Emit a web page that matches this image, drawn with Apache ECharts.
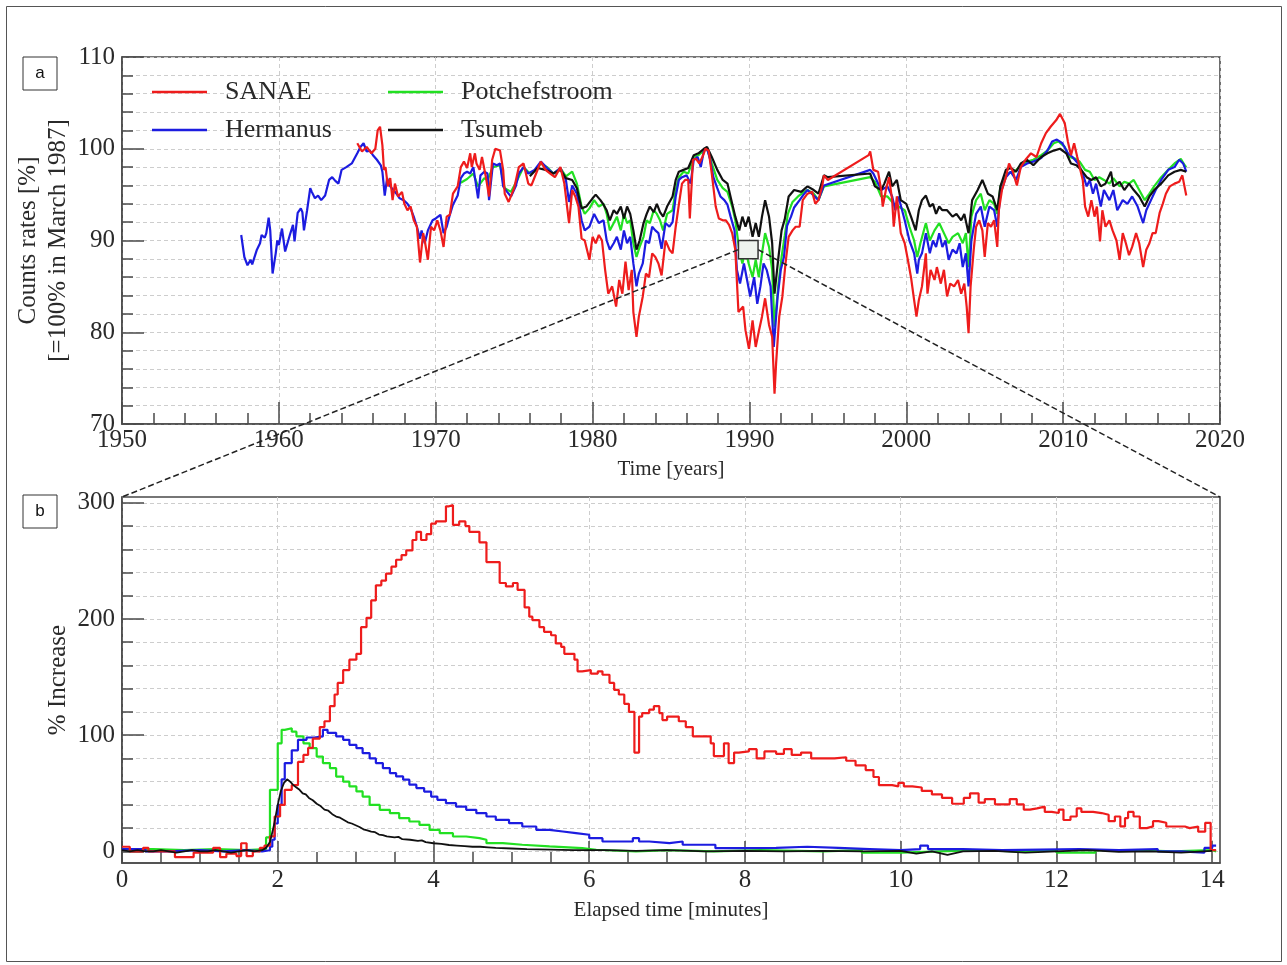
<!DOCTYPE html>
<html>
<head>
<meta charset="utf-8">
<script src="https://cdn.jsdelivr.net/npm/echarts@6/dist/echarts.min.js"></script>
<style>
  html, body { margin: 0; padding: 0; background: #ffffff; }
  #chart { width: 1287px; height: 965px; }
</style>
</head>
<body>
<div id="chart"></div>
<script>
// ---------- Panel a: neutron monitor count rates, [year, % of March 1987] ----------
const sanae = [[1965.0,100.6],[1965.3,99.7],[1965.6,100.2],[1965.9,99.5],[1966.15,100.0],[1966.3,102.0],[1966.45,102.4],[1966.6,100.4],[1966.7,97.7],[1966.8,98.0],[1966.95,95.9],[1967.1,96.8],[1967.25,94.4],[1967.4,96.2],[1967.6,94.8],[1967.85,95.3],[1968.0,94.0],[1968.2,93.3],[1968.4,93.7],[1968.6,92.2],[1968.8,91.5],[1969.0,87.6],[1969.2,90.8],[1969.3,90.0],[1969.5,87.9],[1969.7,91.5],[1969.9,91.1],[1970.1,92.2],[1970.3,91.1],[1970.5,89.3],[1970.7,92.6],[1970.9,92.8],[1971.1,95.1],[1971.4,95.9],[1971.6,98.0],[1971.8,98.6],[1972.0,97.9],[1972.2,99.5],[1972.3,98.0],[1972.5,99.5],[1972.6,98.4],[1972.8,97.7],[1972.95,99.1],[1973.2,96.9],[1973.4,94.8],[1973.6,98.8],[1973.8,100.0],[1974.1,99.8],[1974.3,97.7],[1974.4,95.1],[1974.65,94.2],[1975.0,95.7],[1975.3,98.0],[1975.6,98.4],[1975.9,96.2],[1976.1,96.0],[1976.4,97.3],[1976.7,98.6],[1977.0,97.7],[1977.3,97.3],[1977.6,96.9],[1977.95,98.0],[1978.2,96.2],[1978.5,91.9],[1978.7,95.5],[1978.9,94.8],[1979.1,93.7],[1979.3,90.2],[1979.5,90.0],[1979.8,87.9],[1980.0,90.4],[1980.2,89.7],[1980.4,90.6],[1980.6,90.0],[1980.8,86.8],[1981.0,84.2],[1981.25,85.0],[1981.5,82.8],[1981.7,85.7],[1981.9,84.2],[1982.1,87.7],[1982.3,84.6],[1982.5,86.8],[1982.6,82.2],[1982.8,79.5],[1982.95,81.7],[1983.2,83.9],[1983.4,86.4],[1983.6,86.0],[1983.8,88.6],[1984.0,88.2],[1984.2,87.5],[1984.4,86.2],[1984.65,90.0],[1984.9,89.0],[1985.1,88.6],[1985.3,91.5],[1985.5,93.9],[1985.7,96.2],[1985.9,96.6],[1986.1,96.6],[1986.2,92.4],[1986.4,98.8],[1986.6,98.9],[1986.8,98.4],[1987.0,99.1],[1987.2,100.0],[1987.4,99.8],[1987.6,97.3],[1987.85,93.7],[1988.05,92.4],[1988.3,92.2],[1988.5,92.2],[1988.7,91.7],[1988.9,90.8],[1989.1,89.0],[1989.3,82.2],[1989.4,82.1],[1989.6,82.8],[1989.75,80.2],[1989.97,78.2],[1990.2,81.3],[1990.4,78.4],[1990.6,80.1],[1990.8,81.7],[1991.0,83.7],[1991.25,80.8],[1991.45,79.5],[1991.6,73.3],[1991.7,76.6],[1991.9,81.7],[1992.1,83.9],[1992.3,87.5],[1992.5,90.4],[1992.75,91.1],[1992.95,91.5],[1993.2,91.5],[1993.4,94.4],[1993.7,95.1],[1994.0,95.3],[1994.2,94.0],[1994.4,94.4],[1994.65,96.0],[1994.75,97.1],[1995.0,96.6],[1997.6,99.3],[1997.7,99.7],[1997.9,97.7],[1998.2,97.5],[1998.4,95.5],[1998.5,93.7],[1998.7,95.5],[1998.9,96.9],[1999.1,94.4],[1999.2,91.5],[1999.4,94.8],[1999.65,90.8],[1999.9,89.7],[2000.1,87.9],[2000.3,86.0],[2000.5,83.5],[2000.65,81.7],[2000.8,83.5],[2001.0,85.0],[2001.25,88.6],[2001.35,84.2],[2001.55,86.8],[2001.8,85.7],[2001.95,87.1],[2002.2,85.3],[2002.4,86.8],[2002.6,83.9],[2002.8,85.3],[2003.05,85.0],[2003.3,85.7],[2003.5,84.2],[2003.7,85.3],[2003.85,82.8],[2003.97,79.9],[2004.1,85.0],[2004.3,89.0],[2004.45,91.5],[2004.65,92.2],[2004.85,91.1],[2005.0,88.2],[2005.2,91.9],[2005.4,91.5],[2005.6,92.2],[2005.8,89.3],[2005.9,93.3],[2006.1,95.5],[2006.35,96.9],[2006.55,98.4],[2006.8,97.5],[2007.05,96.0],[2007.3,98.0],[2007.6,98.8],[2007.95,99.5],[2008.3,99.1],[2008.6,100.6],[2008.9,101.7],[2009.2,102.4],[2009.55,103.1],[2009.8,103.8],[2010.1,102.8],[2010.3,100.8],[2010.5,99.3],[2010.7,100.6],[2010.9,99.1],[2011.05,98.0],[2011.25,96.6],[2011.4,93.7],[2011.6,92.6],[2011.8,94.4],[2012.0,92.6],[2012.15,93.7],[2012.35,89.9],[2012.5,93.3],[2012.7,91.5],[2012.95,92.2],[2013.15,91.1],[2013.4,90.0],[2013.6,87.9],[2013.8,90.8],[2014.0,89.7],[2014.2,88.4],[2014.4,89.3],[2014.65,90.8],[2014.85,89.7],[2015.1,87.1],[2015.3,89.0],[2015.5,89.7],[2015.7,90.8],[2015.9,90.8],[2016.15,93.0],[2016.35,94.0],[2016.55,95.1],[2016.8,95.9],[2017.1,96.2],[2017.4,96.4],[2017.6,97.1],[2017.7,96.2],[2017.85,94.9]];

const hermanus = [[1957.6,90.6],[1957.8,88.2],[1958.0,87.3],[1958.2,87.9],[1958.3,87.4],[1958.6,89.0],[1958.8,89.7],[1958.9,90.6],[1959.1,90.3],[1959.2,90.8],[1959.35,92.5],[1959.45,91.1],[1959.6,86.4],[1959.8,88.6],[1959.9,90.0],[1960.0,89.5],[1960.2,91.3],[1960.4,88.8],[1960.6,90.0],[1960.7,90.6],[1960.9,91.7],[1961.0,89.9],[1961.2,93.0],[1961.4,93.5],[1961.5,93.1],[1961.6,91.1],[1961.8,93.3],[1962.0,95.7],[1962.1,95.3],[1962.3,94.6],[1962.5,94.9],[1962.7,94.4],[1962.95,94.9],[1963.2,96.6],[1963.4,96.9],[1963.6,96.5],[1963.8,96.2],[1964.0,97.7],[1964.3,98.0],[1964.65,98.4],[1965.0,99.5],[1965.2,100.2],[1965.4,100.6],[1965.6,99.7],[1965.8,99.8],[1966.0,99.3],[1966.25,98.8],[1966.5,98.2],[1966.6,97.5],[1966.75,94.9],[1966.9,96.8],[1967.1,95.9],[1967.3,95.5],[1967.5,95.1],[1967.7,94.6],[1967.95,94.4],[1968.2,94.0],[1968.4,93.5],[1968.6,92.6],[1968.8,91.5],[1969.0,90.2],[1969.1,91.1],[1969.3,89.7],[1969.5,91.1],[1969.8,92.2],[1970.0,92.4],[1970.3,92.8],[1970.5,90.8],[1970.7,91.5],[1970.9,92.8],[1971.1,93.9],[1971.4,94.9],[1971.6,96.8],[1971.8,97.3],[1972.0,97.5],[1972.2,97.3],[1972.4,98.0],[1972.7,94.6],[1972.85,97.1],[1973.1,97.5],[1973.3,97.3],[1973.4,94.4],[1973.65,98.4],[1973.9,98.2],[1974.1,98.4],[1974.3,95.9],[1974.55,95.3],[1974.8,94.8],[1975.1,95.9],[1975.3,97.3],[1975.6,98.0],[1975.9,97.3],[1976.3,97.7],[1976.7,98.6],[1977.1,97.9],[1977.5,97.3],[1977.95,97.9],[1978.3,96.6],[1978.5,94.2],[1978.7,96.0],[1979.0,95.1],[1979.3,92.2],[1979.5,91.1],[1979.8,91.5],[1980.1,92.9],[1980.4,91.9],[1980.7,92.2],[1980.9,90.0],[1981.1,89.0],[1981.35,89.7],[1981.55,90.4],[1981.8,89.0],[1982.0,91.1],[1982.2,89.7],[1982.4,90.4],[1982.6,87.5],[1982.8,85.0],[1982.95,86.4],[1983.2,87.5],[1983.4,90.0],[1983.6,89.7],[1983.8,91.5],[1984.0,91.1],[1984.2,90.8],[1984.4,89.1],[1984.65,91.9],[1984.9,91.5],[1985.1,92.0],[1985.3,94.8],[1985.5,96.6],[1985.7,96.9],[1986.0,97.1],[1986.25,96.2],[1986.45,98.8],[1986.7,99.1],[1986.9,98.0],[1987.1,99.8],[1987.3,100.0],[1987.5,98.8],[1987.7,96.9],[1987.95,95.7],[1988.15,94.8],[1988.4,94.4],[1988.6,93.9],[1988.8,92.6],[1989.05,91.1],[1989.2,86.8],[1989.4,85.3],[1989.65,87.5],[1989.85,85.7],[1990.05,83.9],[1990.3,86.0],[1990.5,83.1],[1990.7,85.0],[1990.9,87.5],[1991.1,86.8],[1991.35,85.0],[1991.55,78.4],[1991.8,83.9],[1992.0,86.8],[1992.2,88.2],[1992.4,91.6],[1992.65,92.6],[1992.85,93.6],[1993.2,94.4],[1993.45,95.0],[1993.7,95.5],[1994.1,94.9],[1994.4,94.4],[1994.75,96.0],[1997.7,97.7],[1997.9,97.3],[1998.4,95.5],[1998.8,95.9],[1999.1,94.8],[1999.3,93.3],[1999.5,94.8],[1999.9,92.2],[2000.2,90.0],[2000.5,88.6],[2000.7,86.4],[2000.8,87.9],[2001.0,88.6],[2001.25,90.8],[2001.5,88.6],[2001.7,90.0],[2001.9,89.3],[2002.1,90.8],[2002.3,89.3],[2002.5,90.0],[2002.7,87.9],[2002.95,89.0],[2003.2,88.6],[2003.4,89.7],[2003.6,87.1],[2003.8,88.6],[2003.97,85.0],[2004.15,90.0],[2004.45,92.9],[2004.75,93.7],[2005.0,91.5],[2005.3,93.7],[2005.6,93.3],[2005.8,91.5],[2006.0,95.1],[2006.35,96.9],[2006.65,97.5],[2007.0,96.6],[2007.3,98.0],[2007.7,98.4],[2008.1,98.6],[2008.6,99.0],[2009.0,99.8],[2009.3,100.8],[2009.6,101.0],[2009.95,100.6],[2010.3,99.5],[2010.6,99.1],[2010.95,98.4],[2011.25,97.3],[2011.5,95.9],[2011.7,96.6],[2011.9,95.1],[2012.1,96.2],[2012.4,93.7],[2012.6,95.5],[2012.95,94.4],[2013.2,95.5],[2013.45,93.3],[2013.8,94.4],[2014.1,94.0],[2014.4,94.8],[2014.75,93.7],[2015.1,91.9],[2015.3,93.3],[2015.6,94.4],[2015.9,95.5],[2016.25,96.6],[2016.7,97.7],[2017.1,98.0],[2017.4,98.8],[2017.65,98.4],[2017.85,97.5]];

const potchefstroom = [[1971.6,96.3],[1972.0,96.7],[1972.4,97.3],[1972.7,95.9],[1973.1,96.8],[1973.3,96.6],[1973.65,98.0],[1974.1,98.2],[1974.4,95.7],[1974.8,95.3],[1975.2,96.6],[1975.6,98.0],[1976.0,97.3],[1976.4,97.7],[1976.7,98.4],[1977.1,98.0],[1977.5,97.3],[1977.95,97.9],[1978.3,97.0],[1978.7,97.5],[1979.0,96.2],[1979.3,93.7],[1979.5,92.9],[1979.8,93.5],[1980.1,94.4],[1980.4,93.7],[1980.7,94.0],[1980.9,92.9],[1981.1,91.1],[1981.35,91.9],[1981.55,92.6],[1981.8,91.1],[1982.0,92.9],[1982.2,91.9],[1982.4,92.2],[1982.6,89.7],[1982.8,88.2],[1983.0,89.3],[1983.25,90.4],[1983.45,92.2],[1983.65,91.9],[1983.9,93.3],[1984.1,92.9],[1984.3,92.2],[1984.5,91.1],[1984.75,92.9],[1985.1,93.3],[1985.3,95.5],[1985.5,96.9],[1985.8,97.5],[1986.1,97.3],[1986.45,99.1],[1986.75,99.3],[1987.1,99.8],[1987.3,100.0],[1987.6,98.4],[1987.95,96.6],[1988.3,95.7],[1988.6,95.3],[1988.9,93.7],[1989.1,92.2],[1989.35,89.0],[1989.55,87.5],[1989.75,89.0],[1989.95,87.5],[1990.2,86.0],[1990.4,87.9],[1990.6,86.0],[1990.8,88.6],[1991.0,90.8],[1991.25,89.3],[1991.45,86.8],[1991.6,80.6],[1991.85,85.3],[1992.05,88.2],[1992.25,90.5],[1992.45,92.9],[1992.75,94.2],[1993.1,94.8],[1993.4,95.2],[1993.7,95.5],[1994.1,95.1],[1994.4,94.4],[1994.75,95.9],[1997.7,96.9],[1998.0,96.4],[1998.4,94.8],[1998.8,94.8],[1999.2,94.0],[1999.5,93.7],[1999.9,93.3],[2000.2,91.5],[2000.5,90.0],[2000.7,88.2],[2000.9,89.7],[2001.25,91.9],[2001.5,90.0],[2001.8,91.1],[2002.1,91.9],[2002.4,90.8],[2002.7,89.7],[2002.95,90.4],[2003.3,90.8],[2003.6,89.7],[2003.8,90.8],[2003.97,87.1],[2004.15,92.6],[2004.45,94.4],[2004.75,95.1],[2005.0,93.3],[2005.3,94.4],[2005.6,94.0],[2005.8,92.9],[2006.0,95.9],[2006.45,97.3],[2006.9,97.5],[2007.3,98.2],[2007.7,98.6],[2008.1,98.8],[2008.6,99.3],[2009.0,99.8],[2009.4,100.6],[2009.7,100.8],[2010.1,100.2],[2010.4,99.1],[2010.8,98.9],[2011.05,98.6],[2011.4,97.7],[2011.7,97.5],[2012.0,96.6],[2012.3,96.9],[2012.6,96.6],[2012.95,96.2],[2013.2,96.8],[2013.6,95.9],[2013.9,96.4],[2014.2,96.2],[2014.5,96.6],[2014.85,95.5],[2015.2,94.4],[2015.5,95.1],[2015.8,95.9],[2016.25,96.9],[2016.7,97.7],[2017.1,98.4],[2017.5,98.9],[2017.75,98.2],[2017.85,98.0]];

const tsumeb = [[1976.0,97.0],[1976.5,97.9],[1977.0,97.7],[1977.5,97.3],[1977.95,97.7],[1978.3,96.8],[1978.7,96.6],[1979.0,95.7],[1979.3,93.5],[1979.6,93.7],[1980.0,94.6],[1980.2,95.0],[1980.5,94.4],[1980.7,93.9],[1980.9,93.3],[1981.1,92.2],[1981.35,93.3],[1981.55,92.9],[1981.8,93.7],[1982.0,92.4],[1982.2,93.7],[1982.4,92.9],[1982.6,91.1],[1982.8,89.0],[1983.0,90.0],[1983.25,91.9],[1983.45,92.9],[1983.65,93.7],[1983.9,93.1],[1984.1,94.0],[1984.3,93.1],[1984.5,92.6],[1984.75,93.7],[1985.1,94.8],[1985.3,96.6],[1985.5,97.5],[1985.8,97.7],[1986.1,97.9],[1986.45,99.3],[1986.75,99.5],[1987.1,100.0],[1987.3,100.2],[1987.6,99.1],[1987.95,97.7],[1988.3,96.6],[1988.6,96.2],[1988.9,94.0],[1989.1,92.6],[1989.35,91.1],[1989.55,92.6],[1989.75,91.5],[1989.95,92.6],[1990.2,90.4],[1990.4,91.9],[1990.6,90.4],[1990.8,92.6],[1991.0,94.4],[1991.25,92.6],[1991.45,89.7],[1991.6,84.2],[1991.85,88.2],[1992.05,91.1],[1992.25,92.3],[1992.5,94.8],[1992.85,95.5],[1993.3,95.3],[1993.7,95.9],[1994.1,95.5],[1994.4,95.1],[1994.75,97.1],[1995.0,96.9],[1997.7,97.3],[1998.0,95.9],[1998.4,95.5],[1998.6,96.2],[1998.9,97.5],[1999.1,95.9],[1999.4,96.6],[1999.65,94.4],[2000.0,94.0],[2000.3,92.6],[2000.6,91.1],[2000.8,93.3],[2001.0,94.4],[2001.25,94.9],[2001.5,93.7],[2001.7,94.0],[2001.9,92.9],[2002.1,93.7],[2002.3,93.3],[2002.6,93.3],[2002.95,92.6],[2003.2,92.9],[2003.5,92.2],[2003.7,92.9],[2003.97,90.8],[2004.2,94.4],[2004.55,95.5],[2004.85,96.6],[2005.2,95.1],[2005.5,94.8],[2005.8,93.3],[2006.0,95.9],[2006.35,97.7],[2006.65,97.9],[2007.0,97.5],[2007.3,98.4],[2007.7,98.8],[2008.1,98.2],[2008.6,99.1],[2009.0,99.5],[2009.4,99.8],[2009.8,100.0],[2010.2,99.5],[2010.5,98.4],[2010.85,98.2],[2011.15,97.7],[2011.5,96.9],[2011.8,96.6],[2012.1,96.9],[2012.4,95.9],[2012.7,96.2],[2013.05,97.5],[2013.2,95.9],[2013.6,96.4],[2013.9,95.5],[2014.2,96.2],[2014.5,95.5],[2014.85,94.8],[2015.2,93.7],[2015.5,94.8],[2015.8,95.5],[2016.25,96.2],[2016.7,97.1],[2017.1,97.5],[2017.5,97.7],[2017.85,97.5]];

// Region of panel a that panel b expands (years, count rate %)
const zoomBox = { x0: 1989.3, x1: 1990.55, y0: 88.0, y1: 90.0 };

// ---------- Panel b: ground level enhancement, [elapsed minutes, % increase] ----------
const sanaeGle = [[0,4],[0.1,0],[0.27,3],[0.34,0],[0.68,-5],[0.92,-1],[1.17,3],[1.26,-5],[1.34,-2],[1.47,-4],[1.53,7],[1.6,-4],[1.68,0],[1.77,3],[1.83,5],[1.9,13],[1.96,30],[2.03,40],[2.09,53],[2.18,57],[2.26,77],[2.33,83],[2.39,89],[2.45,97],[2.54,107],[2.6,112],[2.67,125],[2.73,135],[2.77,145],[2.84,156],[2.92,165],[3.01,170],[3.07,193],[3.14,201],[3.2,216],[3.26,229],[3.33,233],[3.39,239],[3.46,245],[3.52,251],[3.59,255],[3.65,259],[3.73,268],[3.78,275],[3.84,268],[3.91,273],[3.97,282],[4.03,284],[4.1,284],[4.16,297],[4.2,298],[4.25,281],[4.33,284],[4.41,280],[4.46,275],[4.59,266],[4.68,249],[4.76,249],[4.85,231],[4.93,228],[5.02,231],[5.08,225],[5.17,210],[5.23,202],[5.27,199],[5.36,193],[5.42,189],[5.51,186],[5.57,179],[5.64,176],[5.68,170],[5.81,165],[5.85,155],[5.91,156],[6.02,153],[6.11,155],[6.17,152],[6.26,145],[6.32,139],[6.38,135],[6.45,127],[6.51,120],[6.58,85],[6.64,116],[6.68,119],[6.77,122],[6.83,125],[6.9,119],[6.94,113],[7.0,116],[7.15,112],[7.24,107],[7.33,99],[7.39,99],[7.56,93],[7.6,82],[7.73,93],[7.79,76],[7.86,85],[7.92,86],[8.05,88],[8.15,80],[8.25,86],[8.4,84],[8.5,88],[8.6,83],[8.72,85],[8.85,80],[9.0,80],[9.15,81],[9.3,78],[9.42,74],[9.55,70],[9.65,64],[9.72,57],[9.89,56],[9.97,59],[10.04,56],[10.15,55],[10.27,52],[10.4,49],[10.53,46],[10.66,41],[10.81,46],[10.89,50],[11.0,42],[11.08,45],[11.21,40.5],[11.4,45],[11.49,40.5],[11.58,36],[11.66,37],[11.75,38.5],[11.85,34],[11.94,33],[12.03,36],[12.09,27],[12.18,30],[12.26,37],[12.32,34],[12.47,33],[12.58,31.5],[12.67,26],[12.75,30],[12.82,21.5],[12.88,28.7],[12.92,34],[12.99,30],[13.07,20],[13.16,21.5],[13.24,26],[13.31,24.6],[13.41,21.4],[13.65,20],[13.71,21.4],[13.82,17],[13.91,24.6],[13.98,1],[14.05,1]];

const hermanusGle = [[0,2],[0.3,0],[0.6,1],[1.0,0],[1.3,1],[1.6,0],[1.8,1],[1.9,4],[1.93,10],[1.96,24],[2.0,40],[2.05,62],[2.09,76],[2.18,87],[2.26,96],[2.37,98],[2.47,99],[2.58,104.6],[2.64,102],[2.75,99],[2.84,96],[2.92,91.7],[3.01,88.8],[3.09,84.5],[3.18,80],[3.26,76],[3.35,71.6],[3.44,67.4],[3.52,64.5],[3.61,61.7],[3.69,57.4],[3.78,54.5],[3.88,51.5],[3.97,47.2],[4.05,44.4],[4.16,41.5],[4.29,38.6],[4.42,35.8],[4.55,32.9],[4.68,30],[4.8,27.2],[4.97,24.3],[5.14,21.4],[5.32,18.5],[5.49,17.1],[5.66,15.7],[5.83,14.3],[6.0,11.4],[6.17,8.5],[6.34,8.5],[6.56,11.4],[6.64,8.5],[6.77,7.1],[7.03,8.5],[7.2,5.7],[7.62,2.8],[8.0,3],[8.4,4],[8.8,3],[9.2,2],[9.6,1],[10.0,2],[10.25,5],[10.35,2],[10.8,1],[11.3,1.5],[11.8,2],[12.3,1],[12.8,2],[13.3,0],[13.6,-1],[13.9,3],[14.0,5],[14.05,5]];

const potchefstroomGle = [[0,2],[0.4,1],[0.8,2],[1.2,1],[1.6,2],[1.85,12],[1.9,53],[1.94,53],[2.0,93],[2.05,104.6],[2.09,106],[2.18,103],[2.24,99],[2.33,93],[2.41,88.8],[2.5,81.6],[2.58,76],[2.67,71.6],[2.75,64.4],[2.84,60],[2.92,55.9],[3.01,51.6],[3.09,47.2],[3.18,40],[3.31,35.8],[3.44,32.9],[3.56,28.6],[3.69,25.7],[3.82,22.8],[3.95,18.5],[4.08,15.7],[4.25,12.8],[4.42,11.4],[4.59,10],[4.68,7.1],[4.89,5.7],[5.14,4.3],[5.49,2.8],[5.91,1.4],[6.09,0],[6.6,1],[7.0,0],[7.6,1],[8.2,0],[9.0,1],[9.5,-1],[10.0,0],[10.5,1],[11.0,0],[11.5,1],[12.0,-1],[12.5,1],[13.0,0],[13.5,1],[14.0,0],[14.05,0]];

const tsumebGle = [[0,1],[0.1,0],[0.2,1],[0.3,0],[0.4,0],[0.5,1],[0.6,0],[0.7,-1],[0.8,0],[0.9,1],[1.0,0],[1.1,0],[1.2,1],[1.3,0],[1.4,-1],[1.5,0],[1.6,1],[1.7,0],[1.8,1],[1.85,3],[1.9,8],[1.95,22],[2.0,40],[2.04,52],[2.08,59],[2.12,62],[2.16,60],[2.2,57],[2.24,55],[2.28,53],[2.32,50],[2.36,49],[2.4,46],[2.45,44],[2.5,41],[2.55,39],[2.6,36],[2.65,35],[2.7,32],[2.75,30],[2.8,29],[2.85,27],[2.9,25],[2.95,24],[3.0,22.5],[3.05,21],[3.1,19],[3.15,18],[3.2,17],[3.25,16.5],[3.3,14.5],[3.35,14],[3.4,13],[3.5,12],[3.55,12.5],[3.6,10.5],[3.7,10],[3.8,9],[3.85,9.5],[3.9,8],[4.0,7],[4.1,6.5],[4.2,5.5],[4.3,5],[4.4,4.5],[4.5,4],[4.6,4],[4.7,3.5],[4.8,3],[5.0,2.5],[5.2,2],[5.5,1.5],[5.8,1],[6.2,1],[6.6,0.5],[7.0,1],[7.5,0],[8.0,0.5],[8.5,0],[9.0,0.5],[9.5,0],[10.0,0.5],[10.2,-2],[10.4,0],[10.6,-3],[10.8,0],[11.2,0.5],[11.6,-1],[12.0,0],[12.4,1],[12.8,-0.5],[13.2,0],[13.6,-1],[14.0,0.5]];

// Tick positions for panel b
const elapsedMajorTicks = [0, 2, 4, 6, 8, 10, 12, 14];
const elapsedMinorTicks = [0.5, 1, 1.5, 2.5, 3, 3.5, 4.5, 5, 5.5, 6.5, 7, 7.5, 8.5, 9, 9.5, 10.5, 11, 11.5, 12.5, 13, 13.5];
const increaseMajorTicks = [0, 100, 200, 300];
const increaseMinorTicks = [20, 40, 60, 80, 120, 140, 160, 180, 220, 240, 260, 280];

// ---------- Styling ----------
const SERIF = "'Liberation Serif', 'DejaVu Serif', serif";
const AXIS = '#4a4a4a';
const TEXT = '#2a2a2a';
const COLORS = { SANAE: '#ee1c1c', Hermanus: '#1c1ce0', Potchefstroom: '#22e022', Tsumeb: '#111111' };
const dashed = { color: '#cdcdcd', type: [4, 3], width: 1 };
const axisLineStyle = { color: AXIS, width: 1.6 };
const tickLine = { color: AXIS, width: 1.5 };
const labelStyle = { fontFamily: SERIF, fontSize: 25, color: TEXT };
const nameStyleX = { fontFamily: SERIF, fontSize: 21, color: TEXT };
const nameStyleY = { fontFamily: SERIF, fontSize: 25, color: TEXT, lineHeight: 30 };

const GRID_A = { left: 122, right: 67, top: 57, height: 367 };
const GRID_B = { left: 122, right: 67, top: 497, height: 366 };

function lineSeries(name, data, xi, yi, step, width) {
  return {
    name, type: 'line', data, xAxisIndex: xi, yAxisIndex: yi,
    symbol: 'none', step: step || false, animation: false,
    lineStyle: { color: COLORS[name], width: width || 2.2 },
    itemStyle: { color: COLORS[name] }
  };
}

// Legend keys drawn as short thick strokes in the series colour
const legendCommon = {
  orient: 'vertical', top: 72, icon: 'rect', itemWidth: 55, itemHeight: 2.5, itemGap: 8,
  selectedMode: false,
  textStyle: { fontFamily: SERIF, fontSize: 26, color: TEXT, lineHeight: 30, padding: [0, 0, 0, 13] }
};

const chart = echarts.init(document.getElementById('chart'), null, { renderer: 'canvas' });

const option = {
  backgroundColor: '#ffffff',
  animation: false,
  grid: [
    Object.assign({ show: true, borderColor: AXIS, borderWidth: 1.6, outerBoundsMode: 'none', containLabel: false }, GRID_A),
    Object.assign({ show: true, borderColor: AXIS, borderWidth: 1.6, outerBoundsMode: 'none', containLabel: false }, GRID_B)
  ],
  legend: [
    Object.assign({ data: ['SANAE', 'Hermanus'], left: 147 }, legendCommon),
    Object.assign({ data: ['Potchefstroom', 'Tsumeb'], left: 383 }, legendCommon)
  ],
  xAxis: [
    { // panel a: years
      type: 'value', gridIndex: 0, position: 'bottom', min: 1950, max: 2020, interval: 10,
      axisLine: { show: true, onZero: false, lineStyle: axisLineStyle },
      axisTick: { show: true, inside: true, length: 22, lineStyle: tickLine },
      minorTick: { show: true, splitNumber: 5, length: 11, lineStyle: tickLine },
      splitLine: { show: true, lineStyle: dashed },
      axisLabel: Object.assign({ margin: 4, formatter: v => String(v) }, labelStyle),
      name: 'Time [years]', nameLocation: 'middle', nameGap: 35, nameTextStyle: nameStyleX, nameMoveOverlap: false
    },
    { // panel b: elapsed minutes, major ticks
      type: 'value', gridIndex: 1, position: 'bottom', min: 0, max: 14.1,
      axisLine: { show: true, onZero: false, lineStyle: axisLineStyle },
      axisTick: { show: true, inside: true, length: 22, lineStyle: tickLine, customValues: elapsedMajorTicks },
      splitLine: { show: true, lineStyle: dashed },
      axisLabel: Object.assign({ margin: 5, customValues: elapsedMajorTicks, formatter: v => String(v) }, labelStyle),
      name: 'Elapsed time [minutes]', nameLocation: 'middle', nameGap: 37, nameTextStyle: nameStyleX, nameMoveOverlap: false
    },
    { // panel b: elapsed minutes, minor ticks
      type: 'value', gridIndex: 1, position: 'bottom', min: 0, max: 14.1,
      axisLine: { show: false, onZero: false },
      axisTick: { show: true, inside: true, length: 11, lineStyle: tickLine, customValues: elapsedMinorTicks },
      splitLine: { show: false },
      axisLabel: { show: false }
    }
  ],
  yAxis: [
    { // panel a: count rate
      type: 'value', gridIndex: 0, position: 'left', min: 70, max: 110, interval: 10,
      axisLine: { show: true, onZero: false, lineStyle: axisLineStyle },
      axisTick: { show: true, inside: true, length: 22, lineStyle: tickLine },
      minorTick: { show: true, splitNumber: 5, length: 11, lineStyle: tickLine },
      splitLine: { show: true, lineStyle: dashed },
      minorSplitLine: { show: true, lineStyle: dashed },
      axisLabel: Object.assign({ margin: 7 }, labelStyle),
      name: 'Counts rates [%]\n[=100% in March 1987]', nameLocation: 'middle', nameGap: 49,
      nameTextStyle: nameStyleY, nameMoveOverlap: false
    },
    { // panel b: % increase, major ticks
      type: 'value', gridIndex: 1, position: 'left', min: -10, max: 305,
      axisLine: { show: true, onZero: false, lineStyle: axisLineStyle },
      axisTick: { show: true, inside: true, length: 22, lineStyle: tickLine, customValues: increaseMajorTicks },
      splitLine: { show: true, lineStyle: dashed },
      axisLabel: Object.assign({ margin: 7, customValues: increaseMajorTicks }, labelStyle),
      name: '% Increase', nameLocation: 'middle', nameGap: 49,
      nameTextStyle: nameStyleY, nameMoveOverlap: false
    },
    { // panel b: % increase, minor ticks
      type: 'value', gridIndex: 1, position: 'left', min: -10, max: 305,
      axisLine: { show: false, onZero: false },
      axisTick: { show: true, inside: true, length: 11, lineStyle: tickLine, customValues: increaseMinorTicks },
      splitLine: { show: true, lineStyle: dashed },
      axisLabel: { show: false }
    }
  ],
  series: [
    lineSeries('Potchefstroom', potchefstroom, 0, 0),
    lineSeries('Hermanus', hermanus, 0, 0),
    lineSeries('Tsumeb', tsumeb, 0, 0),
    lineSeries('SANAE', sanae, 0, 0),
    lineSeries('Potchefstroom', potchefstroomGle, 1, 1, 'end'),
    lineSeries('Hermanus', hermanusGle, 1, 1, 'end'),
    lineSeries('SANAE', sanaeGle, 1, 1, 'end'),
    lineSeries('Tsumeb', tsumebGle, 1, 1, false, 1.8)
  ]
};

chart.setOption(option);

// Zoom box on panel a and the dashed connectors to panel b's top corners
const pTL = chart.convertToPixel({ xAxisIndex: 0, yAxisIndex: 0 }, [zoomBox.x0, zoomBox.y1]);
const pBR = chart.convertToPixel({ xAxisIndex: 0, yAxisIndex: 0 }, [zoomBox.x1, zoomBox.y0]);
const bTL = chart.convertToPixel({ xAxisIndex: 1, yAxisIndex: 1 }, [0, 305]);
const bTR = chart.convertToPixel({ xAxisIndex: 1, yAxisIndex: 1 }, [14.1, 305]);
const midY = (pTL[1] + pBR[1]) / 2;
const connector = { stroke: '#222222', lineWidth: 1.5, lineDash: [6, 3], fill: null };

function panelTag(letter, x, y) {
  return {
    type: 'group', x, y, silent: true, z: 50,
    children: [
      { type: 'rect', shape: { x: 0, y: 0, width: 34, height: 33 }, style: { fill: '#ffffff', stroke: '#333333', lineWidth: 1 } },
      { type: 'text', style: { text: letter, x: 17, y: 16.5, font: "17px 'Liberation Sans Narrow', 'Liberation Sans', sans-serif", fill: '#111111', align: 'center', verticalAlign: 'middle', textAlign: 'center', textVerticalAlign: 'middle' } }
    ]
  };
}

chart.setOption({
  graphic: [
    { type: 'rect', silent: true, z: -10, shape: { x: 6.5, y: 6.5, width: 1275, height: 955 }, style: { fill: null, stroke: '#555555', lineWidth: 1 } },
    { type: 'line', silent: true, z: 40, shape: { x1: pTL[0], y1: midY, x2: bTL[0], y2: bTL[1] }, style: connector },
    { type: 'line', silent: true, z: 40, shape: { x1: pBR[0], y1: midY, x2: bTR[0], y2: bTR[1] }, style: connector },
    { type: 'rect', silent: true, z: 45, shape: { x: pTL[0], y: pTL[1], width: pBR[0] - pTL[0], height: pBR[1] - pTL[1] }, style: { fill: '#eef3ee', stroke: '#333333', lineWidth: 1.5 } },
    panelTag('a', 23, 57),
    panelTag('b', 23, 495)
  ]
});
</script>
</body>
</html>
